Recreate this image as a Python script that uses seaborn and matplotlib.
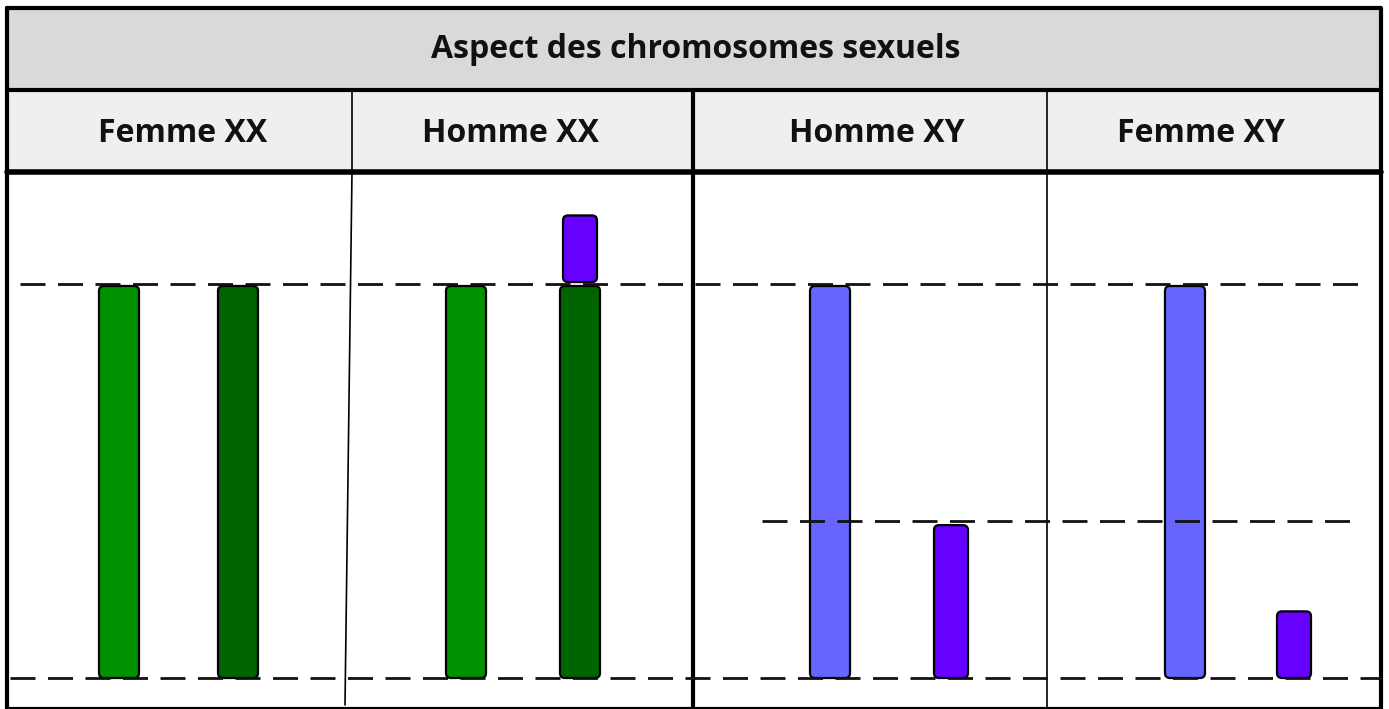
import matplotlib
matplotlib.use('Agg')
import matplotlib.pyplot as plt
from matplotlib.patches import FancyBboxPatch
import seaborn as sns
import pandas as pd

# donnees : taille relative des chromosomes (X = 100)
titre = 'Aspect des chromosomes sexuels'
colonnes = ['Femme XX', 'Homme XX', 'Homme XY', 'Femme XY']
chromosomes = ['X1', 'X2', 'X1', 'X2', 'X', 'Y', 'X', 'Y']
groupe = ['Femme XX', 'Femme XX', 'Homme XX', 'Homme XX', 'Homme XY', 'Homme XY', 'Femme XY', 'Femme XY']
taille = [100, 100, 100, 100, 100, 39, 100, 17]
couleur = ['#009100', '#006400', '#009100', '#006400', '#6666ff', '#6600ff', '#6666ff', '#6600ff']
# fragment du Y (SRY) porte par un X chez l'homme XX
fragment_groupe = ['Homme XX']
fragment_taille = [17]
niveaux = [100.6, 0]
niveau_y = 40

# mise en page (pixels)
W, H = 1389, 709
pos_x = [119, 238, 466, 580, 830, 951, 1185, 1294]
larg = [40, 40, 40, 40, 40, 34, 40, 34]
px_unite = 3.92
y0_px = 678

fig = plt.figure(figsize=(W / 100, H / 100), dpi=100)
sns.set_style('white')
plt.rcParams['font.family'] = ['Open Sans', 'DejaVu Sans']

# axe du schema (tableau, entetes)
cadre = fig.add_axes([0, 0, 1, 1])
cadre.set_xlim(0, W)
cadre.set_ylim(H, 0)
cadre.axis('off')

# axe des chromosomes
body_top, body_bot = 172, 709
ax = fig.add_axes([0, 0, 1, (body_bot - body_top) / H])
ax.set_xlim(0, W)
ax.set_ylim(-(body_bot - y0_px) / px_unite, (y0_px - body_top) / px_unite)
ax.axis('off')
ax.patch.set_alpha(0)

df = pd.DataFrame({'pos': pos_x, 'taille': taille, 'chrom': chromosomes, 'groupe': groupe})
sns.barplot(data=df, x='pos', y='taille', native_scale=True, ax=ax,
            edgecolor='black', linewidth=1.6, zorder=3)


def arrondi(x, y, w, h, c):
    # rectangle a coins arrondis (aspect corrige pour les unites de l'axe)
    ax.add_patch(FancyBboxPatch((x, y), w, h, boxstyle='round,pad=0,rounding_size=5',
                                mutation_aspect=1 / px_unite, facecolor=c,
                                edgecolor='black', linewidth=1.6, zorder=3))


barres = list(ax.patches)
for p, c, w, x in zip(barres, couleur, larg, pos_x):
    arrondi(x - w / 2, p.get_y(), w, p.get_height(), c)
    p.remove()

# fragment du Y pose sur le 2e X de l'homme XX
for g, t in zip(fragment_groupe, fragment_taille):
    i = groupe.index(g) + 1
    arrondi(pos_x[i] - 17, 101, 34, t, '#6600ff')

# lignes de reference
ax.plot([20, 1360], [niveaux[0], niveaux[0]], color='#111111', lw=2, dashes=(9, 4.5), zorder=4)
ax.plot([10, 1381], [niveaux[1], niveaux[1]], color='#111111', lw=2, dashes=(9, 4.5), zorder=4)
ax.plot([762, 1352], [niveau_y, niveau_y], color='#111111', lw=2, dashes=(9, 4.5), zorder=4)

# bandes d'entete
cadre.fill_between([7, 1381], 8, 90, color='#d9d9d9', zorder=0)
cadre.fill_between([7, 1381], 90, 172, color='#efefef', zorder=0)
cadre.text(696, 50, titre, ha='center', va='center', fontsize=23, fontweight='bold', color='#111111')
centres = [183, 510, 877, 1201]
for c, nom in zip(centres, colonnes):
    cadre.text(c, 133, nom, ha='center', va='center', fontsize=23, fontweight='bold', color='#111111')

# traits du tableau
cadre.plot([7, 1381, 1381, 7, 7], [8, 8, H, H, 8], color='black', lw=3, zorder=5)
cadre.plot([7, 1381], [90, 90], color='black', lw=3, zorder=5)
cadre.plot([7, 1381], [172, 172], color='black', lw=4, zorder=5)
cadre.plot([352, 352], [92, 172], color='black', lw=1.2, zorder=5)
cadre.plot([352, 345], [172, 705], color='black', lw=1.2, zorder=5)
cadre.plot([693, 693], [92, H], color='black', lw=3, zorder=5)
cadre.plot([1047, 1047], [92, H], color='black', lw=1.2, zorder=5)

fig.savefig('out.png', dpi=100)
